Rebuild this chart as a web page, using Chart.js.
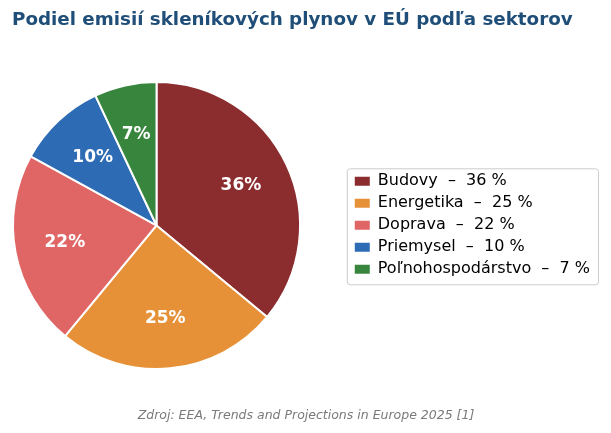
<!DOCTYPE html>
<html>
<head>
<meta charset="utf-8">
<script src="https://cdn.jsdelivr.net/npm/chart.js@4"></script>
<style>
  html, body { margin: 0; padding: 0; background: #fff; }
  #wrap { width: 611px; height: 433px; position: relative; }
</style>
</head>
<body>
<div id="wrap"><canvas id="myChart"></canvas></div>
<script>
const sectors = ["Budovy", "Energetika", "Doprava", "Priemysel", "Poľnohospodárstvo"];
const shares = [36, 25, 22, 10, 7];
const sectorColors = ["#8b2c2e", "#e69138", "#e06666", "#2d6bb4", "#38863e"];

const FONT = "'DejaVu Sans', sans-serif";

// percent labels inside slices
const sliceLabels = {
  id: "sliceLabels",
  afterDatasetsDraw(chart) {
    const ctx = chart.ctx;
    const meta = chart.getDatasetMeta(0);
    ctx.save();
    ctx.fillStyle = "#fff";
    ctx.font = "bold 17px " + FONT;
    ctx.textAlign = "center";
    ctx.textBaseline = "middle";
    meta.data.forEach((arc, i) => {
      const p = arc.getProps(["x", "y", "startAngle", "endAngle", "outerRadius"], true);
      const mid = (p.startAngle + p.endAngle) / 2;
      const r = p.outerRadius * 0.65;
      ctx.fillText(shares[i] + "%", p.x + Math.cos(mid) * r, p.y + Math.sin(mid) * r);
    });
    ctx.restore();
  },
};

// keep the pie area square on the left, and frame the legend
const layoutTweaks = {
  id: "layoutTweaks",
  afterLayout(chart) {
    const a = chart.chartArea;
    a.right = a.left + (a.bottom - a.top);
    a.width = a.right - a.left;
  },
  afterDraw(chart) {
    const boxes = chart.legend.legendHitBoxes;
    if (!boxes || !boxes.length) return;
    const left = Math.min(...boxes.map(b => b.left)) - 8;
    const right = Math.max(...boxes.map(b => b.left + b.width)) + 8;
    const top = boxes[0].top - 5;
    const last = boxes[boxes.length - 1];
    const bottom = last.top + last.height + 7;
    const ctx = chart.ctx;
    ctx.save();
    ctx.strokeStyle = "#cccccc";
    ctx.lineWidth = 1;
    ctx.beginPath();
    ctx.roundRect(left + 0.5, top + 0.5, right - left, bottom - top, 3);
    ctx.stroke();
    ctx.restore();
  },
};

new Chart(document.getElementById("myChart"), {
  type: "pie",
  data: {
    labels: sectors,
    datasets: [
      {
        data: shares,
        backgroundColor: sectorColors,
        borderColor: "#ffffff",
        borderWidth: 2,
      },
    ],
  },
  options: {
    responsive: true,
    maintainAspectRatio: false,
    animation: false,
    layout: { padding: { left: 12, right: 11, top: 0, bottom: 0 } },
    plugins: {
      title: {
        display: true,
        text: "Podiel emisií skleníkových plynov v EÚ podľa sektorov",
        align: "start",
        color: "#1f4e79",
        font: { family: FONT, size: 18.3, weight: "bold" },
        padding: { top: 9, bottom: 50 },
      },
      subtitle: {
        display: true,
        position: "bottom",
        text: "Zdroj: EEA, Trends and Projections in Europe 2025 [1]",
        color: "#7a7a7a",
        font: { family: FONT, size: 12.5, style: "italic" },
        padding: { top: 38, bottom: 10 },
      },
      legend: {
        position: "right",
        title: {
          display: true,
          text: " ",
          font: { size: 8 },
          padding: { top: 4, bottom: 4 },
        },
        labels: {
          color: "#000",
          font: { family: FONT, size: 16 },
          boxWidth: 15,
          boxHeight: 9,
          padding: 6,
          generateLabels(chart) {
            return sectors.map((s, i) => ({
              text: s + "  –  " + shares[i] + " %",
              fillStyle: sectorColors[i],
              strokeStyle: sectorColors[i],
              fontColor: "#000",
              lineWidth: 0,
              index: i,
              hidden: false,
            }));
          },
        },
      },
      tooltip: { enabled: false },
    },
  },
  plugins: [sliceLabels, layoutTweaks],
});
</script>
</body>
</html>
